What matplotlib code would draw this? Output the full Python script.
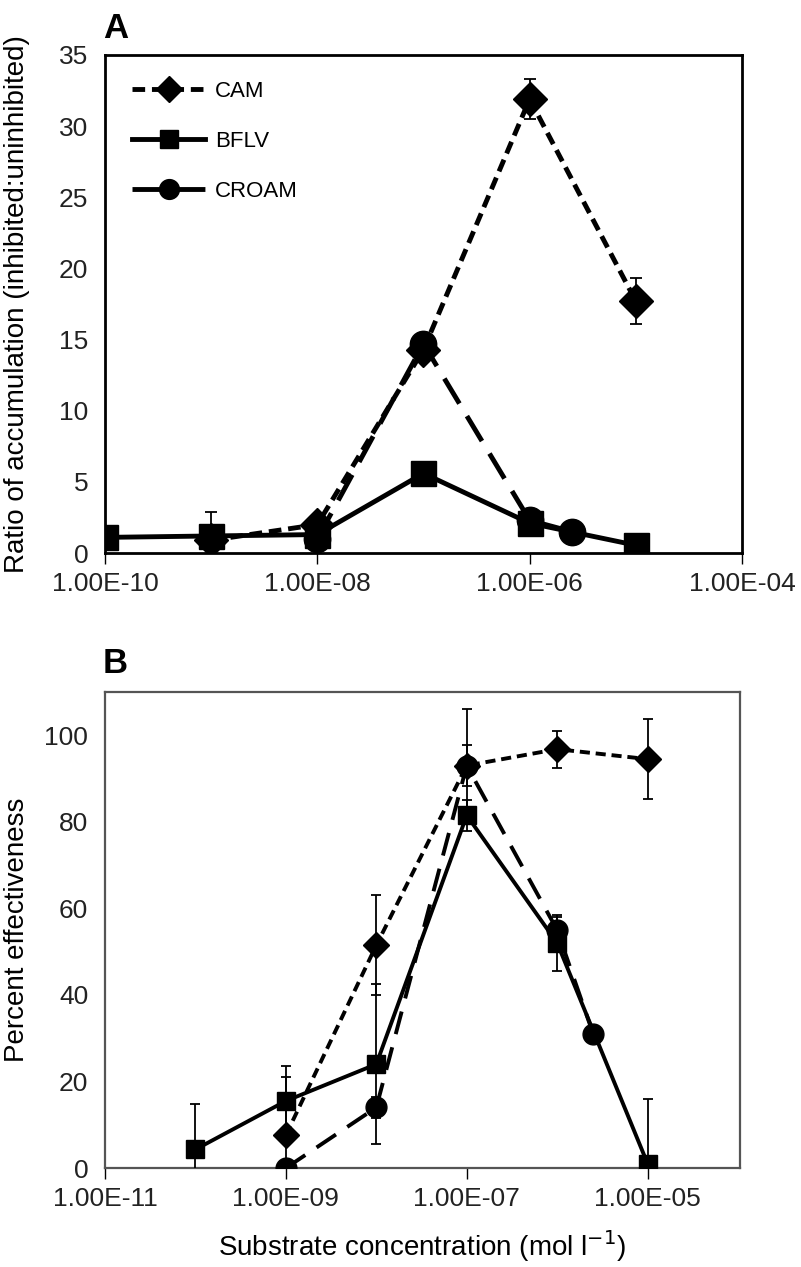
import numpy as np
from matplotlib import pyplot as plt
from matplotlib.ticker import FixedLocator, FuncFormatter

plt.rcParams['font.family'] = ['Liberation Sans', 'DejaVu Sans']

# panel A : ratio of accumulation
a_cam_x = [1e-9, 1e-8, 1e-7, 1e-6, 1e-5]
a_cam_y = [0.9, 2.0, 14.3, 31.9, 17.7]
a_cam_err = [2.0, 0.0, 0.0, 1.4, 1.6]

a_bflv_x = [1e-10, 1e-9, 1e-8, 1e-7, 1e-6, 1e-5]
a_bflv_y = [1.1, 1.2, 1.3, 5.6, 2.1, 0.55]

a_croam_x = [1e-8, 1e-7, 1e-6, 2.5e-6]
a_croam_y = [1.0, 14.7, 2.3, 1.5]

# panel B : percent effectiveness
b_cam_x = [1e-9, 1e-8, 1e-7, 1e-6, 1e-5]
b_cam_y = [7.6, 51.5, 93.0, 96.8, 94.5]
b_cam_err = [13.5, 11.5, 4.7, 4.3, 9.2]

b_bflv_x = [1e-10, 1e-9, 1e-8, 1e-7, 1e-6, 1e-5]
b_bflv_y = [4.3, 15.5, 24.0, 81.5, 52.0, 1.0]
b_bflv_err = [10.5, 8.0, 18.5, 3.5, 6.5, 15.0]

b_croam_x = [1e-9, 1e-8, 1e-7, 1e-6, 2.5e-6]
b_croam_y = [0.0, 14.0, 93.0, 55.0, 31.0]
b_croam_err = [0.0, 2.5, 13.0, 3.0, 0.0]

a_xticks = [1e-10, 1e-8, 1e-6, 1e-4]
b_xticks = [1e-11, 1e-9, 1e-7, 1e-5]

fmt = FuncFormatter(lambda v, p: '%.2E' % v)

fig = plt.figure(figsize=(8.01, 12.67), dpi=100)
axA = fig.add_axes([0.1311, 0.5635, 0.7952, 0.3931])
axB = fig.add_axes([0.1311, 0.0781, 0.7927, 0.3757])

# ---- panel A
lwA = 3.5
axA.errorbar(a_cam_x, a_cam_y, yerr=a_cam_err, fmt='none', ecolor='black',
             elinewidth=1.3, capsize=4.5, capthick=1.3, zorder=3)
axA.plot(a_cam_x, a_cam_y, color='black', marker='D', ms=17, lw=lwA,
         dashes=(2.6, 1.4), label='CAM', zorder=3)
axA.plot(a_bflv_x, a_bflv_y, color='black', marker='s', ms=18, lw=lwA,
         label='BFLV', zorder=5)
axA.plot(a_croam_x, a_croam_y, color='black', marker='o', ms=19, lw=lwA,
         dashes=(6, 3), label='CROAM', zorder=4)

axA.set_xscale('log')
axA.set_xlim(1e-10, 1e-4)
axA.set_ylim(0, 35)
axA.set_yticks(np.arange(0, 36, 5))
axA.xaxis.set_major_locator(FixedLocator(a_xticks))
axA.xaxis.set_minor_locator(FixedLocator([]))
axA.xaxis.set_major_formatter(fmt)
axA.tick_params(axis='x', direction='out', length=8, width=1, pad=6)
axA.tick_params(axis='y', length=0, pad=12)
for s in axA.spines.values():
    s.set_linewidth(2)
axA.set_ylabel('Ratio of accumulation (inhibited:uninhibited)', fontsize=20)
axA.yaxis.set_label_coords(-0.118, 0.5)
axA.text(-0.003, 1.02, 'A', transform=axA.transAxes, fontsize=25, fontweight='bold',
         ha='left', va='bottom')
axA.legend(loc='upper left', bbox_to_anchor=(0.011, 0.988), frameon=False, fontsize=16,
           handlelength=3.3, labelspacing=1.3, handletextpad=0.45, markerscale=0.75)

# ---- panel B
lwB = 2.8
axB.errorbar(b_cam_x, b_cam_y, yerr=b_cam_err, color='black', marker='D', ms=13,
             lw=lwB, dashes=(2.6, 1.5), elinewidth=1.3, capsize=3.8, capthick=1.3,
             zorder=3)
axB.errorbar(b_croam_x, b_croam_y, yerr=b_croam_err, color='black', marker='o', ms=15,
             lw=lwB, dashes=(6, 3.5), elinewidth=1.3, capsize=3.8, capthick=1.3,
             zorder=4)
axB.errorbar(b_bflv_x, b_bflv_y, yerr=b_bflv_err, color='black', marker='s', ms=13,
             lw=lwB, elinewidth=1.3, capsize=3.8, capthick=1.3, zorder=5)

axB.set_xscale('log')
axB.set_xlim(1e-11, 1.05e-4)
axB.set_ylim(0, 110)
axB.set_yticks(np.arange(0, 101, 20))
axB.xaxis.set_major_locator(FixedLocator(b_xticks))
axB.xaxis.set_minor_locator(FixedLocator([]))
axB.xaxis.set_major_formatter(fmt)
axB.tick_params(axis='x', direction='out', length=8, width=1, pad=6)
axB.tick_params(axis='y', length=0, pad=12)
for s in axB.spines.values():
    s.set_linewidth(1.6)
    s.set_color('#555555')
axB.set_ylabel('Percent effectiveness', fontsize=20)
axB.yaxis.set_label_coords(-0.118, 0.5)
axB.set_xlabel('Substrate concentration (mol l$^{-1}$)', fontsize=20)
axB.xaxis.set_label_coords(0.5, -0.126)
axB.text(-0.003, 1.025, 'B', transform=axB.transAxes, fontsize=25, fontweight='bold',
         ha='left', va='bottom')

for ax in (axA, axB):
    for t in ax.get_xticklabels() + ax.get_yticklabels():
        t.set_fontsize(19)
        t.set_color('#222222')

fig.savefig('out.png', dpi=100)
